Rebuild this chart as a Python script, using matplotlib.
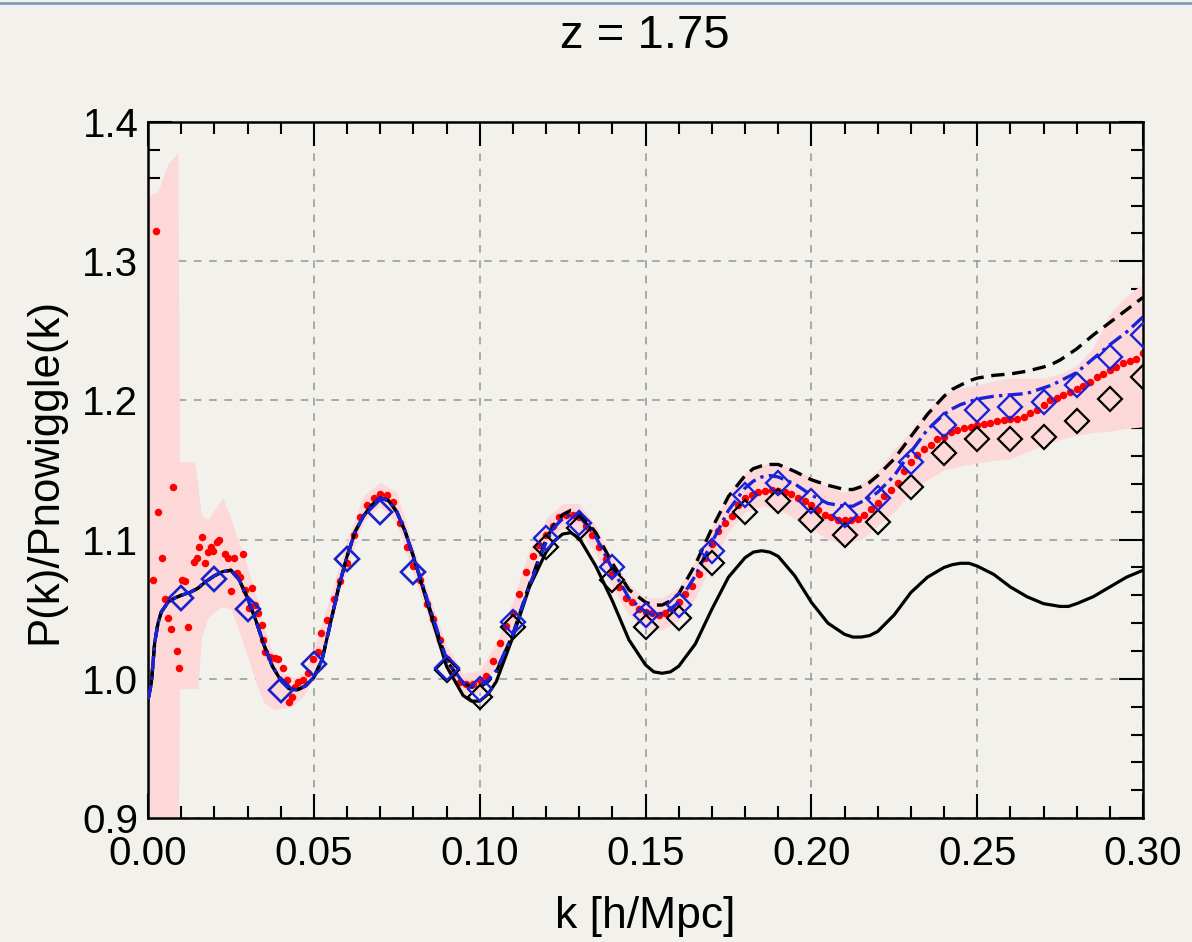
import numpy as np
import matplotlib
matplotlib.use('Agg')
import matplotlib.pyplot as plt
from matplotlib.lines import Line2D
from matplotlib.ticker import MultipleLocator

plt.rcParams['font.family'] = ['Liberation Sans', 'DejaVu Sans']

# simulation measurement (red dots)
red_k = [0.0015, 0.0024, 0.0031, 0.0041, 0.0051, 0.0059, 0.0068, 0.0076, 0.0086, 0.0094,
         0.0101, 0.0112, 0.0120, 0.0140, 0.0147, 0.0154, 0.0164, 0.0172, 0.0180, 0.0190,
         0.0197, 0.0207, 0.0214, 0.0232, 0.0240, 0.0250, 0.0260, 0.0267, 0.0277, 0.0286,
         0.0292, 0.0305, 0.0313, 0.0323, 0.0333, 0.0343, 0.0348, 0.0353, 0.0368, 0.0383,
         0.0392, 0.0407, 0.0419, 0.0425, 0.0433, 0.0443, 0.0452, 0.0467, 0.0482, 0.0497,
         0.0512, 0.0522]
red_y = [1.071, 1.322, 1.120, 1.087, 1.057, 1.044, 1.036, 1.138, 1.020, 1.008,
         1.071, 1.070, 1.037, 1.084, 1.087, 1.095, 1.102, 1.083, 1.091, 1.095,
         1.092, 1.098, 1.100, 1.090, 1.087, 1.063, 1.087, 1.076, 1.073, 1.090,
         1.064, 1.051, 1.065, 1.053, 1.047, 1.039, 1.028, 1.019, 1.016, 1.015,
         1.014, 1.008, 0.999, 0.983, 0.987, 0.994, 0.998, 0.999, 1.004, 1.014,
         1.019, 1.033]
# denser part, k = 0.054 ... 0.300 every 0.002
red_k2 = list(np.round(np.arange(0.054, 0.3001, 0.002), 3))
red_y2 = [1.042, 1.057, 1.070, 1.083, 1.103, 1.116, 1.125, 1.130, 1.133, 1.132,
          1.127, 1.112, 1.095, 1.081, 1.071, 1.054, 1.043, 1.028, 1.014, 1.004,
          0.998, 0.996, 0.996, 0.999, 1.002, 1.013, 1.026, 1.038, 1.047, 1.061,
          1.077, 1.088, 1.096, 1.103, 1.110, 1.116, 1.118, 1.118, 1.116, 1.110,
          1.103, 1.095, 1.086, 1.075, 1.066, 1.058, 1.055, 1.050, 1.048, 1.047,
          1.046, 1.047, 1.050, 1.055, 1.061, 1.067, 1.075, 1.087, 1.097, 1.106,
          1.112, 1.117, 1.125, 1.130, 1.132, 1.134, 1.135, 1.136, 1.135, 1.134,
          1.133, 1.130, 1.128, 1.125, 1.121, 1.118, 1.116, 1.114, 1.114, 1.114,
          1.115, 1.118, 1.122, 1.126, 1.131, 1.136, 1.141, 1.149, 1.156, 1.161,
          1.165, 1.168, 1.172, 1.174, 1.177, 1.179, 1.180, 1.181, 1.182, 1.183,
          1.184, 1.185, 1.186, 1.187, 1.187, 1.188, 1.191, 1.193, 1.197, 1.200,
          1.202, 1.204, 1.206, 1.208, 1.210, 1.213, 1.217, 1.219, 1.222, 1.224,
          1.227, 1.228, 1.230, 1.234]

# error band (pink)
band_k = [0.0, 0.003, 0.006, 0.009, 0.0095, 0.014, 0.015, 0.016, 0.018, 0.021,
          0.0225, 0.025, 0.027, 0.029, 0.031, 0.033, 0.035, 0.038, 0.041, 0.044,
          0.047, 0.050, 0.055, 0.060, 0.065, 0.070, 0.075, 0.080, 0.085, 0.090,
          0.095, 0.100, 0.105, 0.110, 0.115, 0.120, 0.125, 0.130, 0.135, 0.140,
          0.145, 0.150, 0.155, 0.160, 0.165, 0.170, 0.175, 0.180, 0.185, 0.190,
          0.195, 0.200, 0.205, 0.210, 0.215, 0.220, 0.225, 0.230, 0.235, 0.240,
          0.245, 0.250, 0.255, 0.260, 0.265, 0.270, 0.275, 0.280, 0.285, 0.290,
          0.295, 0.300]
band_lo = [0.85, 0.85, 0.85, 0.85, 0.993, 0.993, 0.993, 1.028, 1.044, 1.050,
           1.052, 1.050, 1.037, 1.023, 1.009, 0.994, 0.983, 0.978, 0.979, 0.981,
           0.988, 1.002, 1.040, 1.080, 1.113, 1.124, 1.112, 1.075, 1.040, 1.006,
           0.988, 0.990, 1.010, 1.038, 1.075, 1.097, 1.108, 1.106, 1.090, 1.066,
           1.046, 1.036, 1.035, 1.042, 1.058, 1.083, 1.106, 1.120, 1.124, 1.122,
           1.115, 1.108, 1.100, 1.097, 1.100, 1.110, 1.120, 1.134, 1.143, 1.150,
           1.153, 1.155, 1.157, 1.158, 1.163, 1.168, 1.172, 1.175, 1.177, 1.178,
           1.180, 1.181]
band_hi = [1.347, 1.350, 1.370, 1.378, 1.156, 1.156, 1.140, 1.118, 1.114, 1.125,
           1.130, 1.115, 1.100, 1.088, 1.072, 1.056, 1.037, 1.016, 1.004, 1.001,
           1.004, 1.022, 1.060, 1.100, 1.132, 1.141, 1.134, 1.095, 1.058, 1.024,
           1.004, 1.006, 1.026, 1.056, 1.093, 1.115, 1.126, 1.126, 1.110, 1.086,
           1.068, 1.058, 1.058, 1.066, 1.084, 1.110, 1.134, 1.148, 1.154, 1.155,
           1.150, 1.145, 1.138, 1.134, 1.140, 1.150, 1.165, 1.178, 1.193, 1.205,
           1.209, 1.211, 1.214, 1.216, 1.216, 1.216, 1.219, 1.225, 1.238, 1.262,
           1.275, 1.284]

# model curves: below k = 0.08 the three curves coincide
low_k = [0.0, 0.001, 0.002, 0.003, 0.004, 0.006, 0.008, 0.010, 0.0125, 0.015,
         0.0175, 0.020, 0.0225, 0.025, 0.0275, 0.030, 0.0325, 0.035, 0.0375, 0.040,
         0.0425, 0.045, 0.0475, 0.050, 0.0525, 0.055, 0.0575, 0.060, 0.0625, 0.065,
         0.0675, 0.070, 0.0725, 0.075, 0.0775, 0.080]
low_y = [0.985, 0.997, 1.026, 1.040, 1.048, 1.055, 1.058, 1.060, 1.062, 1.065,
         1.070, 1.074, 1.077, 1.078, 1.071, 1.058, 1.042, 1.024, 1.009, 0.999,
         0.993, 0.992, 0.995, 1.001, 1.014, 1.040, 1.066, 1.088, 1.106, 1.117,
         1.125, 1.130, 1.128, 1.120, 1.106, 1.088]

high_k = [0.085, 0.090, 0.095, 0.0975, 0.100, 0.1025, 0.105, 0.110, 0.115, 0.120,
          0.1225, 0.125, 0.1275, 0.130, 0.135, 0.140, 0.145, 0.150, 0.1525, 0.155,
          0.1575, 0.160, 0.165, 0.170, 0.175, 0.180, 0.1825, 0.185, 0.1875, 0.190,
          0.195, 0.200, 0.205, 0.210, 0.2125, 0.215, 0.2175, 0.220, 0.225, 0.230,
          0.235, 0.240, 0.2425, 0.245, 0.2475, 0.250, 0.255, 0.260, 0.265, 0.270,
          0.2725, 0.275, 0.2775, 0.280, 0.285, 0.290, 0.295, 0.300]
linear_hi = [1.048, 1.009, 0.988, 0.984, 0.984, 0.989, 0.998, 1.030, 1.066, 1.091,
             1.099, 1.104, 1.105, 1.101, 1.081, 1.056, 1.028, 1.010, 1.005, 1.004,
             1.005, 1.009, 1.025, 1.050, 1.073, 1.087, 1.091, 1.092, 1.091, 1.088,
             1.074, 1.055, 1.040, 1.032, 1.030, 1.030, 1.031, 1.034, 1.046, 1.062,
             1.073, 1.080, 1.082, 1.083, 1.083, 1.081, 1.075, 1.066, 1.059, 1.054,
             1.053, 1.052, 1.052, 1.054, 1.059, 1.066, 1.073, 1.078]
dashed_hi = [1.050, 1.013, 0.997, 0.994, 0.994, 0.998, 1.005, 1.032, 1.068, 1.100,
             1.111, 1.118, 1.121, 1.120, 1.105, 1.083, 1.064, 1.055, 1.053, 1.053,
             1.056, 1.061, 1.082, 1.108, 1.131, 1.146, 1.151, 1.153, 1.154, 1.154,
             1.149, 1.143, 1.139, 1.136, 1.136, 1.138, 1.141, 1.146, 1.158, 1.174,
             1.190, 1.203, 1.208, 1.211, 1.214, 1.216, 1.218, 1.219, 1.221, 1.224,
             1.226, 1.229, 1.233, 1.237, 1.247, 1.256, 1.265, 1.274]
dashdot_hi = [1.051, 1.014, 0.997, 0.995, 0.995, 0.999, 1.006, 1.032, 1.067, 1.098,
              1.109, 1.115, 1.118, 1.117, 1.102, 1.079, 1.058, 1.048, 1.046, 1.047,
              1.050, 1.055, 1.074, 1.098, 1.121, 1.137, 1.142, 1.145, 1.146, 1.145,
              1.140, 1.132, 1.126, 1.124, 1.124, 1.127, 1.130, 1.134, 1.146, 1.163,
              1.179, 1.190, 1.194, 1.197, 1.199, 1.201, 1.203, 1.204, 1.205, 1.209,
              1.211, 1.214, 1.217, 1.220, 1.230, 1.240, 1.249, 1.260]

# diamonds at k = 0.01 ... 0.30
dia_k = np.linspace(0.01, 0.30, 30)
blue_dia = [1.058, 1.072, 1.050, 0.992, 1.011, 1.086, 1.120, 1.077, 1.008, 0.993,
            1.041, 1.101, 1.112, 1.080, 1.046, 1.053, 1.092, 1.132, 1.141, 1.128,
            1.118, 1.130, 1.156, 1.182, 1.193, 1.195, 1.199, 1.211, 1.231, 1.247]
black_dia = [1.058, 1.072, 1.050, 0.992, 1.011, 1.086, 1.120, 1.077, 1.006, 0.987,
             1.037, 1.095, 1.108, 1.071, 1.037, 1.044, 1.083, 1.120, 1.128, 1.114,
             1.103, 1.113, 1.138, 1.162, 1.172, 1.172, 1.174, 1.185, 1.201, 1.217]

bg = '#f3f1ec'
blue = '#1a22d8'
fig = plt.figure(figsize=(11.92, 9.42), dpi=100, facecolor=bg)
ax = fig.add_axes([0.1242, 0.1316, 0.8347, 0.7389])
ax.set_facecolor(bg)

ax.fill_between(band_k, band_lo, band_hi, color='#fcd8d8', lw=0, zorder=1)
ax.plot(red_k + red_k2, red_y + red_y2, 'o', color='#ff0000', ms=5.4, mec='none', zorder=2)
ax.plot(low_k + high_k, low_y + linear_hi, color='black', lw=2.3, zorder=3)
ax.plot(low_k + high_k, low_y + dashed_hi, color='black', lw=2.4, dashes=(4, 2.3), zorder=3)
ax.plot(low_k + high_k, low_y + dashdot_hi, color=blue, lw=2.4, dashes=(4.5, 1.6, 1, 1.6), zorder=3.5)
ax.plot(dia_k, black_dia, 'D', ms=12.5, mfc='none', mec='black', mew=1.6, zorder=4)
ax.plot(dia_k, blue_dia, 'D', ms=12.5, mfc='none', mec=blue, mew=1.7, zorder=5)

ax.set_xlim(0, 0.30)
ax.set_ylim(0.9, 1.4)
ax.xaxis.set_minor_locator(MultipleLocator(0.01))
ax.yaxis.set_minor_locator(MultipleLocator(0.02))
ax.set_xticks(np.linspace(0, 0.30, 7))
ax.set_xticklabels(['0.00', '0.05', '0.10', '0.15', '0.20', '0.25', '0.30'])
ax.set_yticks(np.linspace(0.9, 1.4, 6))
ax.set_yticklabels(['0.9', '1.0', '1.1', '1.2', '1.3', '1.4'])
ax.tick_params(which='both', direction='in', top=True, right=True, width=1.5, labelsize=29)
ax.tick_params(which='major', length=17)
ax.tick_params(which='minor', length=8.5)
ax.tick_params(axis='x', pad=12)
ax.tick_params(axis='y', pad=7)
for s in ax.spines.values():
    s.set_linewidth(1.8)

ax.grid(True, which='major', color='#959595', ls=(0, (5, 5)), lw=1.1)
ax.set_axisbelow(True)

fig.text(0.541, 0.949, 'z = 1.75', ha='center', va='baseline', fontsize=34)
fig.text(0.541, 0.0149, 'k [h/Mpc]', ha='center', va='baseline', fontsize=32)
fig.text(0.038, 0.500, 'P(k)/Pnowiggle(k)', ha='center', va='center', rotation=90, fontsize=31.5)

fig.add_artist(Line2D([0, 1], [0.9968, 0.9968], transform=fig.transFigure, color='#7e9bc0', lw=2))

fig.savefig('out.png', dpi=100, facecolor=bg)
